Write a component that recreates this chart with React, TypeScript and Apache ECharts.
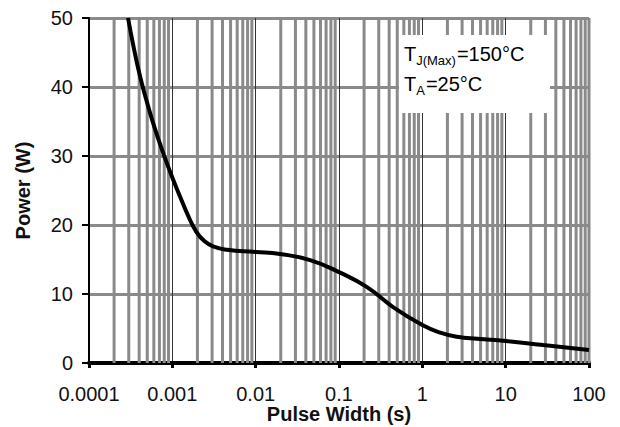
import React, { useEffect, useRef } from "react";
import * as echarts from "echarts";

// Curve data (pulse width in s, power in W)
const PULSE_WIDTH = [
  0.000294, 0.000347, 0.000409, 0.000483, 0.00057, 0.000673, 0.000794, 0.000991,
  0.00124, 0.00154, 0.00192, 0.0024, 0.00308, 0.00454, 0.01, 0.0196, 0.045, 0.103,
  0.217, 0.446, 1, 1.64, 2.62, 4.55, 10, 28.2, 100,
];
const POWER = [
  50, 45.5, 41.6, 38.3, 35.3, 32.6, 30.1, 27.0, 24.1, 21.4, 19.1, 17.7, 16.9, 16.4,
  16.1, 15.8, 14.9, 13.1, 11.0, 8.1, 5.5, 4.4, 3.8, 3.5, 3.2, 2.6, 1.9,
];

// Axis structure
const X_TICK_LABELS = ["0.0001", "0.001", "0.01", "0.1", "1", "10", "100"];
const Y_TICK_LABELS = ["0", "10", "20", "30", "40", "50"];
const DECADES = [0.0001, 0.001, 0.01, 0.1, 1, 10];
const MINOR_MULTIPLIERS = [2, 3, 4, 5, 6, 7, 8, 9];

// Annotation
const NOTE_LINE1 = "{a|T}{s|J(Max)}{a|=150°C}";
const NOTE_LINE2 = "{a|T}{s|A}{a|=25°C}";

const FONT = "'Liberation Sans', Arial, Helvetica, sans-serif";

export default function App() {
  const ref = useRef<HTMLDivElement>(null);

  useEffect(() => {
    if (!ref.current) return;
    const chart = echarts.init(ref.current, null, { renderer: "svg" });

    const minorLines: number[][] = [];
    DECADES.forEach((d) =>
      MINOR_MULTIPLIERS.forEach((m) => minorLines.push([+(d * m).toPrecision(6), 0]))
    );
    minorLines.push([100, 0]);

    const labelFor = (v: number) => {
      const idx = Math.round(Math.log10(v)) + 4;
      return X_TICK_LABELS[idx] ?? "";
    };

    const rich = {
      a: { fontSize: 20, fontFamily: FONT, color: "#1a1a1a", lineHeight: 24, verticalAlign: "bottom" },
      s: { fontSize: 13, fontFamily: FONT, color: "#1a1a1a", lineHeight: 13, verticalAlign: "bottom", padding: [0, 1, -3, 0] },
    };

    chart.setOption({
      animation: false,
      backgroundColor: "#ffffff",
      grid: {
        left: 89,
        top: 18,
        right: 31,
        bottom: 64,
        containLabel: false,
        outerBoundsMode: "none",
      },
      xAxis: {
        type: "log",
        logBase: 10,
        min: 0.0001,
        max: 100,
        name: "Pulse Width (s)",
        nameLocation: "middle",
        nameGap: 41,
        nameMoveOverlap: false,
        nameTextStyle: { fontSize: 20, lineHeight: 20, fontWeight: "bold", fontFamily: FONT, color: "#111" },
        axisLine: { show: true, onZero: false, lineStyle: { color: "#000", width: 4 } },
        axisTick: { show: true, length: 5, lineStyle: { color: "#000", width: 3 } },
        axisLabel: {
          fontSize: 20,
          fontFamily: FONT,
          color: "#111",
          margin: 21,
          formatter: (v: number) => labelFor(v),
        },
        splitLine: { show: true, lineStyle: { color: "#333", width: 1 } },
        minorTick: { show: false },
      },
      yAxis: {
        type: "value",
        min: 0,
        max: 50,
        interval: 10,
        name: "Power (W)",
        nameLocation: "middle",
        nameGap: 56,
        nameTextStyle: { fontSize: 20, fontWeight: "bold", fontFamily: FONT, color: "#111" },
        axisLine: { show: true, lineStyle: { color: "#000", width: 2 } },
        axisTick: { show: true, length: 7, lineStyle: { color: "#000", width: 2 } },
        axisLabel: {
          fontSize: 20,
          fontFamily: FONT,
          color: "#111",
          margin: 16,
          formatter: (v: number) => Y_TICK_LABELS[Math.round(v / 10)] ?? "",
        },
        splitLine: { show: true, lineStyle: { color: "#8a8a8a", width: 3 } },
      },
      series: [
        {
          type: "custom",
          silent: true,
          z: 1,
          data: minorLines,
          encode: { x: 0, y: 1 },
          renderItem: (params: any, api: any) => {
            const x = api.value(0);
            const top = api.coord([x, 50]);
            const bottom = api.coord([x, 0]);
            return {
              type: "rect",
              shape: { x: top[0] - 1.5, y: top[1], width: 3, height: bottom[1] - top[1] },
              style: { fill: "#8a8a8a" },
            };
          },
        },
        {
          type: "line",
          data: PULSE_WIDTH.map((x, i) => [x, POWER[i]]),
          showSymbol: false,
          smooth: 0.5,
          clip: true,
          z: 5,
          lineStyle: { color: "#000", width: 4 },
        },
      ],
      graphic: [
        {
          type: "rect",
          z: 100,
          shape: { x: 399, y: 35, width: 151, height: 78 },
          style: { fill: "#ffffff" },
        },
        {
          type: "text",
          z: 101,
          x: 404,
          y: 40,
          style: { text: NOTE_LINE1, rich },
        },
        {
          type: "text",
          z: 101,
          x: 404,
          y: 70,
          style: { text: NOTE_LINE2, rich },
        },
      ],
    });

    return () => chart.dispose();
  }, []);

  return (
    <div
      ref={ref}
      style={{ position: "fixed", left: 0, top: 0, width: 620, height: 427, background: "#fff" }}
    />
  );
}
